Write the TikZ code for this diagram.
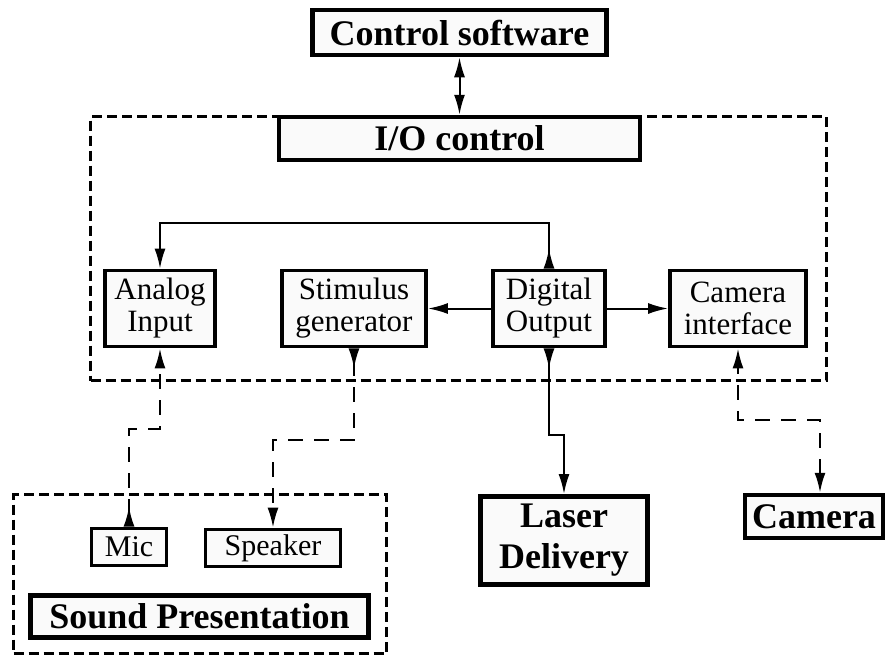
\documentclass[tikz,border=0pt]{standalone}
\usepackage{fontspec}
\setmainfont{Liberation Serif}
\usetikzlibrary{arrows.meta,calc}
\begin{document}
\begin{tikzpicture}[x=1pt,y=-1pt,
  box/.style={draw, line width=3.8pt, fill=black!2, inner sep=0pt, align=center, font=\fontsize{31}{32}\selectfont},
  bbox/.style={box, line width=4.5pt, font=\bfseries\fontsize{36}{41}\selectfont},
  groupframe/.style={draw, line width=3.5pt, dash pattern=on 10pt off 5pt, inner sep=0pt},
  conn/.style={line width=2pt},
  dconn/.style={line width=2.2pt, dash pattern=on 15pt off 11pt},
  both/.style={arrows={Latex[length=20pt,width=11pt]-Latex[length=20pt,width=11pt]}},
  fwd/.style={arrows={-Latex[length=20pt,width=11pt]}},
  revfwd/.style={arrows={Latex[reversed,length=20pt,width=11pt]-Latex[length=20pt,width=11pt]}}
]
\useasboundingbox (0,0) rectangle (888,656);

% group frames
\node[groupframe, minimum width=736, minimum height=264] (ioframe) at (458.5,248.5) {};
\node[groupframe, minimum width=373, minimum height=159] (soundframe) at (200,574) {};

% boxes
\node[bbox, minimum width=294, minimum height=45] (ctrl) at (459.5,32.5) {Control software};
\node[bbox, minimum width=361, minimum height=43] (io) at (459.5,138.5) {I/O control};

\node[box, minimum width=110, minimum height=76] (analog) at (160,308.5) {Analog\\Input};
\node[box, minimum width=144, minimum height=76] (stim) at (354,308.5) {Stimulus\\generator};
\node[box, minimum width=112, minimum height=76] (dig) at (549,308.5) {Digital\\Output};
\node[box, minimum width=136, minimum height=76] (camif) at (738,308.5) {Camera\\interface};

\node[box, minimum width=75, minimum height=37, font=\fontsize{30}{32}\selectfont] (mic) at (129,547) {Mic};
\node[box, minimum width=135, minimum height=37, font=\fontsize{30}{32}\selectfont] (speaker) at (273,548) {Speaker};
\node[bbox, line width=5pt, minimum width=338, minimum height=42] (soundp) at (199.5,616.5) {Sound Presentation};

\node[bbox, line width=5pt, minimum width=167, minimum height=88] (laser) at (564,540.5) {Laser\\Delivery};
\node[bbox, minimum width=138, minimum height=43] (camera) at (814,516.5) {Camera};

% helper coordinates
\coordinate (rail) at (0,223);
\coordinate (ymic) at (0,429);
\coordinate (yspk) at (0,440);
\coordinate (ylas) at (0,435);
\coordinate (ycam) at (0,420);
\coordinate (camx) at (820,0);

% connectors
\draw[conn, both] (ctrl) -- (io);
\draw[conn, revfwd] (dig.north) -- (dig.north |- rail) -| (analog.north);
\draw[conn, fwd] (dig) -- (stim);
\draw[conn, fwd] (dig) -- (camif);

\draw[dconn, revfwd] (mic.north) -- (mic.north |- ymic) -| (analog.south);
\draw[dconn, revfwd] (stim.south) -- (stim.south |- yspk) -| (speaker.north);
\draw[conn, revfwd] (dig.south) -- (dig.south |- ylas) -| (laser.north);
\draw[dconn, both] (camera.north -| camx) -- (camx |- ycam) -| (camif.south);
\end{tikzpicture}
\end{document}
